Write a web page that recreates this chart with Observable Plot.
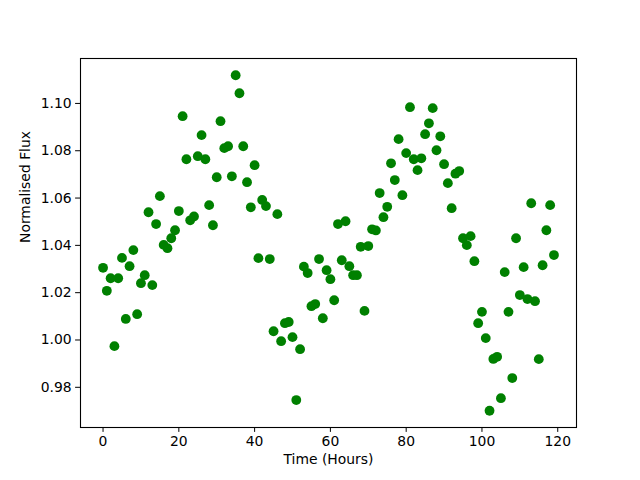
<!DOCTYPE html>
<html>
<head>
<meta charset="utf-8">
<script src="https://cdn.jsdelivr.net/npm/d3@7"></script>
<script src="https://cdn.jsdelivr.net/npm/@observablehq/plot@0.6"></script>
<style>
  html, body { margin: 0; padding: 0; background: white; }
  #chart { width: 640px; height: 480px; }
</style>
</head>
<body>
<div id="chart"></div>
<script>
// Time in hours (one reading per hour)
const hours = d3.range(0, 120);
// Normalised flux values
const flux = [
  1.0305, 1.0208, 1.0261, 0.9974, 1.0261, 1.0347, 1.0089, 1.0312, 1.0380, 1.0109,
  1.0240, 1.0274, 1.0540, 1.0232, 1.0490, 1.0608, 1.0402, 1.0388, 1.0430, 1.0464,
  1.0545, 1.0946, 1.0764, 1.0506, 1.0522, 1.0777, 1.0866, 1.0764, 1.0570, 1.0485,
  1.0688, 1.0925, 1.0811, 1.0819, 1.0692, 1.1119, 1.1043, 1.0819, 1.0667, 1.0561,
  1.0739, 1.0346, 1.0592, 1.0566, 1.0342, 1.0037, 1.0532, 0.9995, 1.0071, 1.0076,
  1.0012, 0.9746, 0.9961, 1.0310, 1.0283, 1.0143, 1.0152, 1.0342, 1.0092, 1.0295,
  1.0257, 1.0168, 1.0490, 1.0337, 1.0502, 1.0312, 1.0274, 1.0274, 1.0394, 1.0123,
  1.0397, 1.0468, 1.0463, 1.0621, 1.0519, 1.0563, 1.0747, 1.0676, 1.0849, 1.0612,
  1.0790, 1.0984, 1.0764, 1.0718, 1.0768, 1.0870, 1.0916, 1.0980, 1.0802, 1.0861,
  1.0743, 1.0663, 1.0557, 1.0703, 1.0714, 1.0430, 1.0401, 1.0439, 1.0333, 1.0071,
  1.0119, 1.0008, 0.9701, 0.9920, 0.9929, 0.9754, 1.0287, 1.0119, 0.9839, 1.0430,
  1.0190, 1.0308, 1.0173, 1.0578, 1.0164, 0.9919, 1.0316, 1.0464, 1.0570, 1.0359
];
const xTicks = [0, 20, 40, 60, 80, 100, 120];
const yTicks = [0.98, 1.00, 1.02, 1.04, 1.06, 1.08, 1.10];
const xLabel = "Time (Hours)";
const yLabel = "Normalised Flux";

const data = hours.map((h, i) => ({hour: h, flux: flux[i]}));

const xMin = d3.min(hours), xMax = d3.max(hours);
const yMin = d3.min(flux), yMax = d3.max(flux);
const xPad = (xMax - xMin) * 0.05, yPad = (yMax - yMin) * 0.05;

const fs = 13.9;
const chart = Plot.plot({
  width: 640,
  height: 480,
  marginLeft: 80,
  marginRight: 64,
  marginTop: 58,
  marginBottom: 53,
  style: {fontFamily: "DejaVu Sans", fontSize: fs + "px", color: "black", background: "white"},
  x: {domain: [xMin - xPad, xMax + xPad]},
  y: {domain: [yMin - yPad, yMax + yPad]},
  marks: [
    Plot.axisX({ticks: xTicks, tickSize: 4.9, tickPadding: 4, fontSize: fs, label: null, tickFormat: d3.format("d")}),
    Plot.axisY({ticks: yTicks, tickSize: 4.9, tickPadding: 4, fontSize: fs, label: null, tickFormat: d3.format(".2f")}),
    Plot.dot(data, {x: "hour", y: "flux", r: 4.9, fill: "#008000", stroke: "none"}),
    Plot.frame({stroke: "black", strokeWidth: 1.1}),
    Plot.text([xLabel], {frameAnchor: "bottom", dy: 36, text: d => d, fontSize: fs}),
    Plot.text([yLabel], {frameAnchor: "left", dx: -55, rotate: -90, text: d => d, fontSize: fs})
  ]
});
document.getElementById("chart").appendChild(chart);
</script>
</body>
</html>
